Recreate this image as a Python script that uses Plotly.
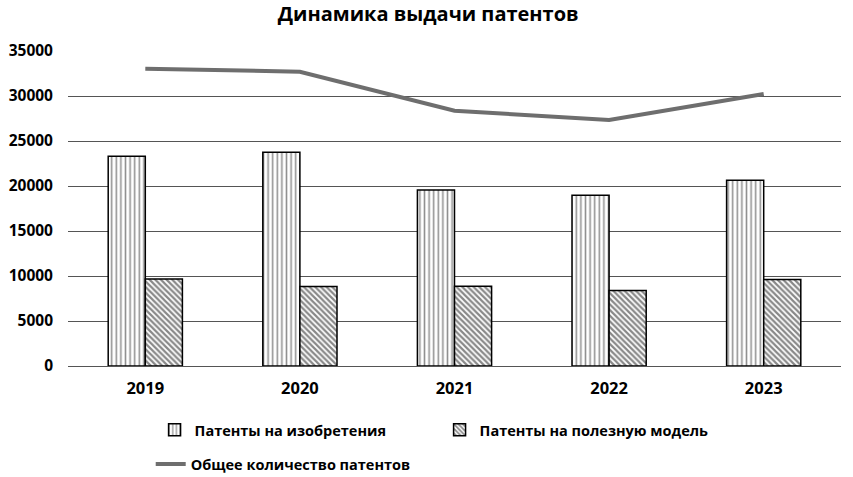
import plotly.graph_objects as go

years = ["2019", "2020", "2021", "2022", "2023"]
inventions = [23300, 23750, 19550, 18970, 20630]
utility_models = [9670, 8830, 8850, 8380, 9600]
total = [33030, 32700, 28370, 27330, 30230]

FONT = "Open Sans"

fig = go.Figure()
fig.add_trace(go.Bar(
    x=years, y=inventions, name="Патенты на изобретения",
    marker=dict(color="white", line=dict(color="black", width=1.5),
                pattern=dict(shape="|", fgcolor="#222222", bgcolor="white",
                             size=4.6, solidity=0.34)),
    legend="legend",
))
fig.add_trace(go.Bar(
    x=years, y=utility_models, name="Патенты на полезную модель",
    marker=dict(color="white", line=dict(color="black", width=1.5),
                pattern=dict(shape="\\", fgcolor="#111111", bgcolor="white",
                             size=4, solidity=0.55)),
    legend="legend",
))
fig.add_trace(go.Scatter(
    x=years, y=total, name="Общее количество патентов", mode="lines",
    line=dict(color="#6e6e6e", width=4),
    legend="legend2",
))

fig.update_layout(
    width=853, height=477,
    paper_bgcolor="white", plot_bgcolor="white",
    margin=dict(l=68, r=12, t=51, b=111, autoexpand=False),
    barmode="group", bargap=0.52, bargroupgap=0,
    title=dict(text="Динамика выдачи патентов", x=0.502, xanchor="center",
               y=0.971, yanchor="middle",
               font=dict(family=FONT, size=20, color="black", weight="bold")),
    font=dict(family=FONT, color="black"),
    legend=dict(orientation="h", x=0.112, xanchor="left", y=-0.203, yanchor="middle",
                entrywidth=240, entrywidthmode="pixels",
                font=dict(family=FONT, size=14.5, color="black", weight="bold"),
                bgcolor="rgba(0,0,0,0)"),
    legend2=dict(orientation="h", x=0.107, xanchor="left", y=-0.311, yanchor="middle",
                 font=dict(family=FONT, size=14.5, color="black", weight="bold"),
                 bgcolor="rgba(0,0,0,0)"),
    showlegend=True,
)
fig.update_yaxes(range=[0, 35000], dtick=5000, tickformat="d", showgrid=True,
                 gridcolor="#555555", gridwidth=1, zeroline=True,
                 zerolinecolor="#555555", zerolinewidth=1,
                 showline=False, ticks="", ticklabelstandoff=14,
                 tickfont=dict(family=FONT, size=15.5, color="black", weight="bold"))
fig.update_xaxes(showgrid=False, showline=False, ticks="", ticklabelstandoff=10,
                 tickfont=dict(family=FONT, size=16.5, color="black", weight="bold"))

fig.write_html("out.html", config={"displayModeBar": False},
               post_script="document.body.style.margin='0';")
